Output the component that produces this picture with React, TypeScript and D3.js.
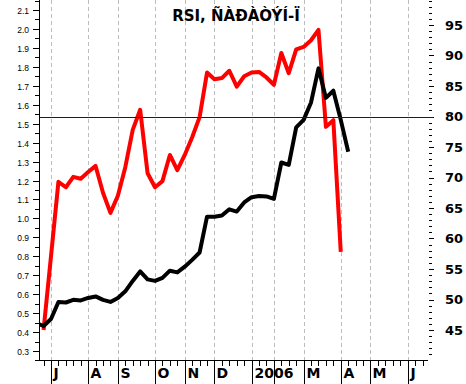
import React, { useEffect, useRef } from 'react'
import * as d3 from 'd3'

// weekly closes (left axis) start at week -2, RSI (right axis) at week -1
const priceStart = -2
const price = [
  0.448, 0.432, 0.469, 0.559, 0.556, 0.57, 0.567, 0.58, 0.588, 0.57, 0.559, 0.58,
  0.615, 0.67, 0.72, 0.678, 0.67, 0.686, 0.724, 0.715, 0.745, 0.781, 0.82, 1.009,
  1.009, 1.015, 1.048, 1.036, 1.084, 1.112, 1.118, 1.116, 1.103, 1.295, 1.282, 1.48,
  1.52, 1.612, 1.792, 1.636, 1.674, 1.52, 1.352,
]
const rsiStart = -1
const rsi = [
  45.0, 57.1, 69.3, 68.4, 70.1, 69.8, 70.9, 71.9, 67.5, 64.2, 67.0, 71.7, 77.8,
  81.1, 70.7, 68.4, 69.4, 73.7, 71.2, 73.7, 76.6, 79.9, 87.2, 86.1, 86.3, 87.5,
  84.9, 86.6, 87.2, 87.3, 86.4, 85.2, 90.4, 87.1, 91.0, 91.4, 92.5, 94.2, 78.3,
  79.4, 57.8,
]
const rsiLevel = 80

const monthWeeks = [0, 5, 9, 14, 18, 22, 27, 30, 34, 39, 43, 48]
const monthLabels = ['J', 'A', 'S', 'O', 'N', 'D', '2006', '', 'M', 'A', 'M', 'J']
const leftTicks = [0.3, 0.4, 0.5, 0.6, 0.7, 0.8, 0.9, 1.0, 1.1, 1.2, 1.3, 1.4, 1.5, 1.6, 1.7, 1.8, 1.9, 2.0, 2.1]
const rightTicks = [45, 50, 55, 60, 65, 70, 75, 80, 85, 90, 95]
const title = 'RSI, ÑÀÐÀÒÝÍ-Ï'

export default function App() {
  const ref = useRef<SVGSVGElement>(null)

  useEffect(() => {
    const svg = d3.select(ref.current)
    svg.selectAll('*').remove()
    const W = 466, H = 384
    const left = 39, right = 428, base = 360

    const x = d3.scaleLinear().domain([0, 48]).range([51, 51 + 48 * 7.43])
    const yL = d3.scaleLinear().domain([0.3, 2.1]).range([351, 10])
    const yR = d3.scaleLinear().domain([45, 95]).range([330, 25])

    svg.append('rect').attr('width', W).attr('height', H).attr('fill', '#fff')

    svg.append('defs').append('clipPath').attr('id', 'plot')
      .append('rect').attr('x', left).attr('y', 0).attr('width', W - left).attr('height', base)

    // month gridlines + separators
    const g = svg.append('g')
    monthWeeks.forEach((w, i) => {
      const xx = Math.round(x(w)) + 0.5
      g.append('line').attr('x1', xx).attr('x2', xx).attr('y1', 0).attr('y2', base)
        .attr('stroke', '#bdbdbd').attr('stroke-dasharray', '4,3')
      g.append('line').attr('x1', xx).attr('x2', xx).attr('y1', base).attr('y2', H)
        .attr('stroke', '#000')
      if (monthLabels[i]) {
        g.append('text').attr('x', xx + 2).attr('y', 378).text(monthLabels[i])
          .attr('font-family', 'DejaVu Sans').attr('font-weight', 'bold').attr('font-size', 14)
      }
    })

    // weekly ticks on x axis
    d3.range(-1, 51).forEach(w => {
      const xx = Math.round(x(w)) + 0.5
      g.append('line').attr('x1', xx).attr('x2', xx).attr('y1', base).attr('y2', base + 6).attr('stroke', '#000')
    })
    g.append('line').attr('x1', 36).attr('x2', right).attr('y1', base + 0.5).attr('y2', base + 0.5).attr('stroke', '#000')

    // left axis
    g.append('line').attr('x1', left + 0.5).attr('x2', left + 0.5).attr('y1', 0).attr('y2', base).attr('stroke', '#000')
    leftTicks.forEach(v => {
      const yy = Math.round(yL(v)) + 0.5
      g.append('line').attr('x1', left - 6).attr('x2', left).attr('y1', yy).attr('y2', yy).attr('stroke', '#000')
      g.append('line').attr('x1', left - 4).attr('x2', left).attr('y1', Math.round(yL(v + 0.05)) + 0.5)
        .attr('y2', Math.round(yL(v + 0.05)) + 0.5).attr('stroke', '#000')
      g.append('text').attr('x', 29).attr('y', yy + 3).attr('text-anchor', 'end').text(d3.format('.1f')(v))
        .attr('font-family', 'Liberation Sans, Arial, sans-serif').attr('font-size', 8.5)
    })
    g.append('line').attr('x1', left - 4).attr('x2', left).attr('y1', Math.round(yL(0.25)) + 0.5)
      .attr('y2', Math.round(yL(0.25)) + 0.5).attr('stroke', '#000')

    // right axis (no spine)
    d3.range(41, 103).forEach(v => {
      const yy = Math.round(yR(v)) + 0.5
      const major = v % 5 === 0
      g.append('line').attr('x1', 429).attr('x2', major ? 434 : 432).attr('y1', yy).attr('y2', yy).attr('stroke', '#000')
    })
    rightTicks.forEach(v => {
      g.append('text').attr('x', 445).attr('y', yR(v) + 4.7).text(v)
        .attr('font-family', 'DejaVu Sans').attr('font-weight', 'bold').attr('font-size', 13)
    })

    const plot = svg.append('g').attr('clip-path', 'url(#plot)')
    const lineR = d3.line<number>().x((d, i) => x(rsiStart + i)).y(d => yR(d))
    const lineP = d3.line<number>().x((d, i) => x(priceStart + i)).y(d => yL(d))
    plot.append('path').attr('d', lineR(rsi)).attr('fill', 'none').attr('stroke', '#ff0000')
      .attr('stroke-width', 4).attr('stroke-linejoin', 'round')
    plot.append('path').attr('d', lineP(price)).attr('fill', 'none').attr('stroke', '#000')
      .attr('stroke-width', 4).attr('stroke-linejoin', 'round')

    // RSI 80 level
    const yl = Math.round(yR(rsiLevel))
    svg.append('rect').attr('x', left + 1).attr('y', yl).attr('width', 433 - left - 1).attr('height', 1)
      .attr('fill', 'blue').attr('shape-rendering', 'crispEdges')

    svg.append('text').attr('x', 236).attr('y', 21).attr('text-anchor', 'middle').text(title)
      .attr('font-family', 'DejaVu Sans').attr('font-weight', 'bold').attr('font-size', 15)
  }, [])

  return <svg ref={ref} width={466} height={384} style={{ position: 'absolute', left: 0, top: 0 }} />
}
